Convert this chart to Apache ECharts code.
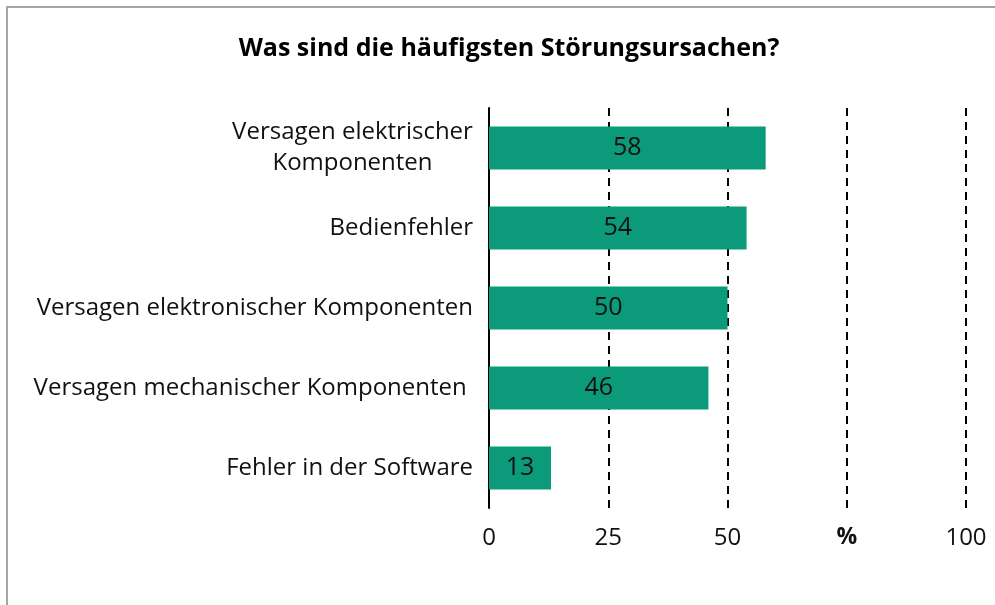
<!DOCTYPE html>
<html>
<head>
<meta charset="utf-8">
<script src="https://cdn.jsdelivr.net/npm/echarts@6/dist/echarts.min.js"></script>
<style>
    html, body {margin: 0; padding: 0; background: #fff;}
    #chart {width: 995px; height: 605px;}
</style>
</head>
<body>
<div id="chart"></div>
<script>
    //Daten
    const categories = [
        'Versagen elektrischer\nKomponenten',
        'Bedienfehler',
        'Versagen elektronischer Komponenten',
        'Versagen mechanischer Komponenten ',
        'Fehler in der Software'
    ];
    const values = [58, 54, 50, 46, 13];
    const tickLabels = {0: '0', 25: '25', 50: '50', 75: '%', 100: '100'};

    const font = '"Open Sans", "Noto Sans", sans-serif';
    const chart = echarts.init(document.getElementById('chart'));

    const option = {
        animation: false,
        textStyle: {fontFamily: font},
        title: {
            text: 'Was sind die häufigsten Störungsursachen?',
            left: 504,
            textAlign: 'center',
            top: 31,
            textStyle: {fontSize: 25, fontWeight: 'bold', color: '#000', fontFamily: font}
        },
        graphic: [{
            type: 'rect',
            shape: {x: 7, y: 7, width: 1100, height: 700},
            style: {fill: 'none', stroke: '#a6a6a6', lineWidth: 2},
            silent: true
        }],
        grid: {left: 489, right: 29, top: 108, bottom: 97},
        xAxis: {
            type: 'value',
            min: 0,
            max: 100,
            interval: 25,
            axisLine: {show: false},
            axisTick: {show: false},
            axisLabel: {
                margin: 18,
                fontSize: 24,
                color: '#111',
                formatter: v => v === 75 ? '{p|%}' : tickLabels[v],
                rich: {p: {fontSize: 23, fontWeight: 'bold', color: '#111', fontFamily: font}}
            },
            splitLine: {
                show: true,
                lineStyle: {color: '#000', width: 2, type: [8, 6]}
            }
        },
        yAxis: {
            type: 'category',
            data: categories,
            inverse: true,
            axisLine: {show: true, lineStyle: {color: '#000', width: 2}},
            axisTick: {show: false},
            axisLabel: {
                margin: 16,
                fontSize: 24,
                color: '#111',
                lineHeight: 31,
                formatter: v => {
                    //zweizeilige Beschriftung zentriert
                    if (v.indexOf('\n') > -1) {
                        return v.split('\n').map(s => '{c|' + s + '}').join('\n');
                    }
                    return v;
                },
                rich: {
                    c: {width: 241, align: 'center', fontSize: 24, lineHeight: 31, color: '#111', fontFamily: font}
                }
            }
        },
        series: [{
            type: 'bar',
            data: values,
            barWidth: 43,
            itemStyle: {color: '#0b9a7a'},
            label: {
                show: true,
                position: 'inside',
                fontSize: 25,
                color: '#111',
                fontFamily: font
            },
            z: 1
        }]
    };
    chart.setOption(option);
</script>
</body>
</html>
